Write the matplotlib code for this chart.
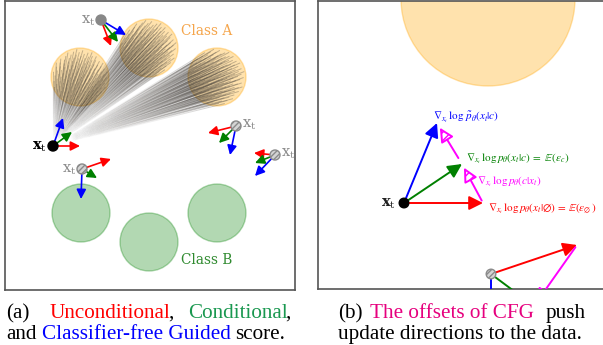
import numpy as np
import matplotlib
matplotlib.use("Agg")
import matplotlib.pyplot as plt
from matplotlib.patches import Circle, FancyArrowPatch
from matplotlib.collections import LineCollection

plt.rcParams["font.family"] = "DejaVu Serif"
plt.rcParams["mathtext.fontset"] = "dejavuserif"

RED, GREEN, BLUE, MAGENTA = "#ff0000", "#008000", "#0000ff", "#ff00ff"

# ---- panel (a): two classes of data --------------------------------------
class_a = [(80, 77), (149, 48), (217, 77)]
class_b = [(81, 213), (149, 242), (217, 213)]
blob_r = 29

# noisy samples x_t and the tips of their three score arrows
pts_a = [(53, 146), (101, 20), (82, 169), (236, 126), (275, 155)]
pts_kind = ["main", "gray", "hatch", "hatch", "hatch"]
uncond_tip = [(80, 146), (111, 46), (111, 159), (208, 133), (254, 153)]
cond_tip = [(72, 132), (118, 42), (97, 178), (219, 143), (255, 163)]
guided_tip = [(63, 118), (126, 35), (81, 199), (230, 155), (255, 176)]
label_side = ["left", "left", "left", "right", "right"]

# ---- panel (b): one x_t and the CFG decomposition ------------------------
big_a = (488, -1)
big_r = 87
pts_b = [(404, 203), (491, 274)]
b_uncond = [(483, 203), (577, 245)]
b_cond = [(462, 164), (534, 306)]
b_guided = [(437, 123), (491, 335)]

formula_guided = r"$\nabla_{x_t}\,\log\,\tilde{p}_\theta(x_t|c)$"
formula_cond = r"$\nabla_{x_t}\,\log p_\theta(x_t|c)\;=\;\mathbb{E}(\epsilon_c)$"
formula_cls = r"$\nabla_{x_t}\,\log p_\theta(c|x_t)$"
formula_uncond = r"$\nabla_{x_t}\,\log p_\theta(x_t|\emptyset)\,=\,\mathbb{E}(\epsilon_\emptyset\,)$"


def panel(fig, x0, x1, y0, y1):
    ax = fig.add_axes([x0 / 603, (345 - y1) / 345, (x1 - x0) / 603, (y1 - y0) / 345])
    ax.set_xlim(x0, x1)
    ax.set_ylim(y1, y0)
    ax.set_xticks([])
    ax.set_yticks([])
    for s in ax.spines.values():
        s.set_color("#555555")
        s.set_linewidth(1.2)
    return ax


def arrow(ax, a, b, color, lw=1.2, scale=8, shrinkA=3.5, shrinkB=0, **kw):
    ax.add_patch(FancyArrowPatch(a, b, arrowstyle="-|>,head_length=0.7,head_width=0.35",
                                 mutation_scale=scale, color=color, lw=lw,
                                 shrinkA=shrinkA, shrinkB=shrinkB, zorder=4, **kw))


def fan(ax, origin, centre, r, n=160):
    # grey rays from x_t into a class blob, fading in towards the blob
    golden = np.pi * (3 - np.sqrt(5))
    t = np.linspace(0, 1, 41)
    segs, cols = [], []
    for i in range(n):
        rr = r * np.sqrt((i + 0.5) / n)
        ex = centre[0] + rr * np.cos(i * golden)
        ey = centre[1] + rr * np.sin(i * golden)
        xs = origin[0] + (ex - origin[0]) * t
        ys = origin[1] + (ey - origin[1]) * t
        for k in range(len(t) - 1):
            segs.append([(xs[k], ys[k]), (xs[k + 1], ys[k + 1])])
            cols.append((0.26, 0.24, 0.22, 0.32 * t[k + 1] ** 2.6))
    ax.add_collection(LineCollection(segs, colors=cols, linewidths=0.7, zorder=3))


def point(ax, xy, kind, r=5):
    if kind == "main":
        ax.add_patch(Circle(xy, r, fc="black", ec="black", zorder=5))
    elif kind == "gray":
        ax.add_patch(Circle(xy, r, fc="#888888", ec="#888888", zorder=5))
    else:
        ax.add_patch(Circle(xy, r, fc="#d4d4d4", ec="#8a8a8a", lw=1.0,
                            hatch="//////", zorder=5))


fig = plt.figure(figsize=(6.03, 3.45), dpi=100)

# ---------------- (a) ----------------
ax = panel(fig, 5, 295, 1, 290)
for c in class_a:
    ax.add_patch(Circle(c, blob_r, fc="orange", ec="orange", alpha=0.32, lw=1, zorder=1))
    fan(ax, pts_a[0], c, blob_r - 1)
for c in class_b:
    ax.add_patch(Circle(c, blob_r, fc="green", ec="green", alpha=0.3, lw=1, zorder=1))
ax.text(207, 31, "Class A", color="#f5a54b", fontsize=9.8, ha="center", va="center")
ax.text(207, 260, "Class B", color="#2f8a2f", fontsize=9.8, ha="center", va="center")

for p, kind, u, c, g, side in zip(pts_a, pts_kind, uncond_tip, cond_tip, guided_tip, label_side):
    arrow(ax, p, u, RED)
    arrow(ax, p, c, GREEN)
    arrow(ax, p, g, BLUE)
    point(ax, p, kind)
    if kind == "main":
        lab, col = r"$\mathbf{x}_{\mathrm{t}}$", "black"
    else:
        lab, col = r"$\mathrm{x}_{\mathrm{t}}$", "#8a8a8a"
    if side == "left":
        ax.text(p[0] - 6, p[1] + 1, lab, color=col, fontsize=10.5, ha="right", va="center", zorder=6)
    else:
        ax.text(p[0] + 6, p[1] - 1, lab, color=col, fontsize=10.5, ha="left", va="center", zorder=6)

# ---------------- (b) ----------------
bx = panel(fig, 318, 606, 1, 289)
bx.add_patch(Circle(big_a, big_r, fc="orange", ec="orange", alpha=0.32, lw=1, zorder=1))
for i, p in enumerate(pts_b):
    arrow(bx, p, b_uncond[i], RED, lw=1.4, scale=12, shrinkA=4)
    arrow(bx, p, b_cond[i], GREEN, lw=1.4, scale=12, shrinkA=4)
    arrow(bx, p, b_guided[i], BLUE, lw=1.4, scale=12, shrinkA=4)
    arrow(bx, b_uncond[i], b_cond[i], MAGENTA, lw=1.4, scale=12, shrinkA=2, shrinkB=3,
          fc="white", ec=MAGENTA, hatch="////")
    if i == 0:
        arrow(bx, b_cond[i], b_guided[i], MAGENTA, lw=1.4, scale=12, shrinkA=5, shrinkB=4,
              fc="white", ec=MAGENTA, hatch="////")
point(bx, pts_b[0], "main", r=4.8)
point(bx, pts_b[1], "hatch", r=4.8)
bx.text(pts_b[0][0] - 8, pts_b[0][1] + 1, r"$\mathbf{x}_{\mathrm{t}}$", fontsize=10.5,
        ha="right", va="center", color="#222222")

fkw = dict(fontsize=8, math_fontfamily="stix", va="center", ha="left", zorder=6)
bx.text(433, 117, formula_guided, color=BLUE, **fkw)
bx.text(466, 159, formula_cond, color=GREEN, **fkw)
bx.text(477, 182, formula_cls, color=MAGENTA, **fkw)
bx.text(488, 209, formula_uncond, color=RED, **fkw)

# ---------------- captions ----------------
cap = fig.add_axes([0, 0, 1, 1])
cap.set_xlim(0, 603)
cap.set_ylim(345, 0)
cap.axis("off")
ckw = dict(fontsize=15.2, family="Liberation Serif", va="baseline", ha="left")
renderer = fig.canvas.get_renderer()


def run(x, y, pieces):
    # consecutive coloured pieces on one baseline; dx nudges a piece left/right
    for txt, col, dx in pieces:
        t = cap.text(x + dx, y, txt, color=col, **ckw)
        bb = t.get_window_extent(renderer)
        x = cap.transData.inverted().transform((bb.x1, bb.y0))[0]


run(6, 318, [("(a)", "black", 0)])
run(50, 318, [("Unconditional", RED, 0), (",", "black", -3)])
run(188, 318, [("Conditional", "#1a9850", 0), (",", "black", -3)])
run(6, 339, [("and", "black", 0)])
run(42, 339, [("Classifier-free Guided", BLUE, 0)])
run(235, 339, [("score.", "black", 0)])
run(338, 318, [("(b)", "black", 0)])
run(370, 318, [("The offsets of CFG", "#e6007e", 0)])
run(546, 318, [("push", "black", 0)])
run(338, 339, [("update directions to the data.", "black", 0)])

fig.savefig("out.png", dpi=100)
